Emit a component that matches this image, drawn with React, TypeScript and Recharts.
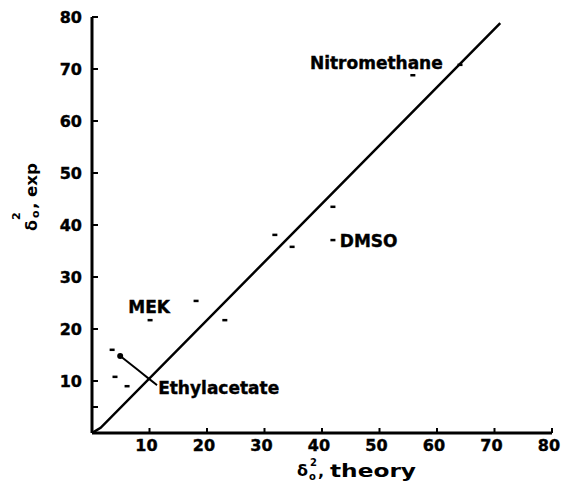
import React from 'react';
import { ScatterChart, Scatter, XAxis, YAxis } from 'recharts';

// axis ticks
const X_TICKS = [10, 20, 30, 40, 50, 60, 70, 80];
const Y_TICKS = [5, 10, 20, 30, 40, 50, 60, 70, 80];

// measured solvents (theory vs exp)
const SOLVENT_X = [3.5, 4.0, 6.1, 10.1, 18.1, 23.1, 31.8, 34.8, 41.9, 41.9, 55.8, 64.0];
const SOLVENT_Y = [16.0, 10.8, 9.0, 21.7, 25.4, 21.7, 38.1, 35.8, 43.5, 37.1, 68.8, 70.8];

// the straight correlation line
const FIT_X = [0, 1.5, 71];
const FIT_Y = [0, 1.0, 78.8];

// leader from the ethylacetate point to its label
const LEADER_X = [4.9, 8.0, 9.7, 11.3];
const LEADER_Y = [14.8, 12.1, 10.6, 9.2];

// annotations
const LABEL_TEXT = ['Nitromethane', 'DMSO', 'MEK', 'Ethylacetate'];
const LABEL_X = [61.0, 43.1, 6.3, 11.5];
const LABEL_Y = [70.0, 35.8, 23.1, 7.5];
const LABEL_ANCHOR = ['end', 'start', 'start', 'start'];

const FONT = '"DejaVu Sans", sans-serif';
const INK = '#000';

const zip = (xs: number[], ys: number[]) => xs.map((x, i) => ({ x, y: ys[i] }));

const solvents = zip(SOLVENT_X, SOLVENT_Y);
const fit = zip(FIT_X, FIT_Y);
const leader = zip(LEADER_X, LEADER_Y);
const labels = LABEL_TEXT.map((text, i) => ({
  x: LABEL_X[i],
  y: LABEL_Y[i],
  text,
  anchor: LABEL_ANCHOR[i],
}));

const XTick = (props: any) => {
  const { x, y, payload } = props;
  return (
    <g>
      <line x1={x} y1={y} x2={x} y2={y - 5} stroke={INK} strokeWidth={2} />
      <text x={x - 3} y={y + 18} textAnchor="middle" fontFamily={FONT} fontWeight="bold" fontSize={16}
        fill={INK} stroke={INK} strokeWidth={0.4}>
        {payload.value}
      </text>
    </g>
  );
};

const YTick = (props: any) => {
  const { x, y, payload } = props;
  return (
    <g>
      <line x1={x} y1={y} x2={x + 6} y2={y} stroke={INK} strokeWidth={2} />
      {payload.value !== 5 && (
        <text x={x - 10} y={y + 6} textAnchor="end" fontFamily={FONT} fontWeight="bold" fontSize={16}
          fill={INK} stroke={INK} strokeWidth={0.4}>
          {payload.value}
        </text>
      )}
    </g>
  );
};

const Dash = (props: any) => {
  const { cx, cy } = props;
  return <rect x={cx - 2.5} y={cy - 1.25} width={5} height={2.5} fill={INK} />;
};

const LeaderDot = (props: any) => {
  const { cx, cy, payload } = props;
  if (payload.x !== LEADER_X[0]) return <g />;
  return <circle cx={cx} cy={cy} r={3} fill={INK} />;
};

const Nothing = () => <g />;

const Annotation = (props: any) => {
  const { cx, cy, payload } = props;
  return (
    <text x={cx} y={cy} textAnchor={payload.anchor} fontFamily={FONT} fontWeight="bold" fontSize={17}
      fill={INK} stroke={INK} strokeWidth={0.4}>
      {payload.text}
    </text>
  );
};

export default function App() {
  return (
    <div style={{ position: 'absolute', left: 0, top: 0, width: 565, height: 484, background: '#fff' }}>
      <ScatterChart width={565} height={484} margin={{ top: 17, right: 13, left: 0, bottom: 0 }}>
        <XAxis
          type="number"
          dataKey="x"
          domain={[0, 80]}
          ticks={X_TICKS}
          interval={0}
          height={51}
          allowDataOverflow
          axisLine={{ stroke: INK, strokeWidth: 3 }}
          tickLine={false}
          tickSize={0}
          tickMargin={0}
          tick={<XTick />}
        />
        <YAxis
          type="number"
          dataKey="y"
          domain={[0, 80]}
          ticks={Y_TICKS}
          interval={0}
          width={92}
          allowDataOverflow
          axisLine={{ stroke: INK, strokeWidth: 3 }}
          tickLine={false}
          tickSize={0}
          tickMargin={0}
          tick={<YTick />}
        />
        <Scatter
          data={fit}
          line={{ stroke: INK, strokeWidth: 2.5 }}
          shape={<Nothing />}
          isAnimationActive={false}
        />
        <Scatter
          data={leader}
          line={{ stroke: INK, strokeWidth: 2 }}
          lineJointType="monotoneX"
          shape={<LeaderDot />}
          isAnimationActive={false}
        />
        <Scatter data={solvents} shape={<Dash />} isAnimationActive={false} />
        <Scatter data={labels} shape={<Annotation />} isAnimationActive={false} />
      </ScatterChart>
      <svg width={565} height={484} style={{ position: 'absolute', left: 0, top: 0, pointerEvents: 'none' }}>
        {/* y axis title, reads bottom to top */}
        <g transform="translate(37, 231) rotate(-90)" fontFamily={FONT} fontWeight="bold" fill={INK}>
          <text x={0} y={0} fontSize={16}>δ</text>
          <text x={11} y={-17} fontSize={11}>2</text>
          <text x={13} y={2} fontSize={11}>o</text>
          <text x={22} y={0} fontSize={16} textLength={46} lengthAdjust="spacingAndGlyphs">, exp</text>
        </g>
        {/* x axis title */}
        <g fontFamily={FONT} fontWeight="bold" fill={INK}>
          <text x={297} y={476} fontSize={16}>δ</text>
          <text x={310} y={466} fontSize={10}>2</text>
          <text x={309} y={480} fontSize={10}>o</text>
          <text x={318} y={477} fontSize={16}>,</text>
          <text x={330} y={477} fontSize={17} textLength={86} lengthAdjust="spacingAndGlyphs">theory</text>
        </g>
      </svg>
    </div>
  );
}
